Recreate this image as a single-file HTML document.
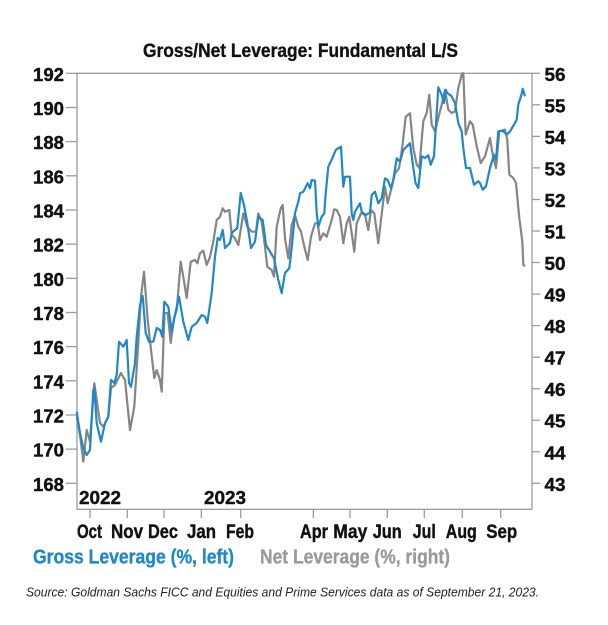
<!DOCTYPE html>
<html><head><meta charset="utf-8"><style>
html,body{margin:0;padding:0;background:#fff;}
svg{display:block;}
text{font-family:"Liberation Sans",Arial,sans-serif;}
</style></head><body>
<svg width="608" height="625" viewBox="0 0 608 625" xmlns="http://www.w3.org/2000/svg">
<rect width="608" height="625" fill="#fff"/>
<text x="300.5" y="57" font-size="19.5" font-weight="bold" fill="#111" stroke="#111" stroke-width="0.35" text-anchor="middle" textLength="315" lengthAdjust="spacingAndGlyphs">Gross/Net Leverage: Fundamental L/S</text>

<!-- plot box -->
<rect x="77" y="73.3" width="455" height="436" fill="none" stroke="#9a9a9a" stroke-width="1.3"/>

<!-- left ticks -->
<g stroke="#9a9a9a" stroke-width="1.3">
<line x1="66" y1="73.3" x2="77" y2="73.3"/>
<line x1="66" y1="107.5" x2="77" y2="107.5"/>
<line x1="66" y1="141.6" x2="77" y2="141.6"/>
<line x1="66" y1="175.8" x2="77" y2="175.8"/>
<line x1="66" y1="210" x2="77" y2="210"/>
<line x1="66" y1="244.1" x2="77" y2="244.1"/>
<line x1="66" y1="278.3" x2="77" y2="278.3"/>
<line x1="66" y1="312.5" x2="77" y2="312.5"/>
<line x1="66" y1="346.6" x2="77" y2="346.6"/>
<line x1="66" y1="380.8" x2="77" y2="380.8"/>
<line x1="66" y1="415" x2="77" y2="415"/>
<line x1="66" y1="449.1" x2="77" y2="449.1"/>
<line x1="66" y1="483.3" x2="77" y2="483.3"/>
</g>
<g font-size="18.5" font-weight="bold" fill="#111" stroke="#111" stroke-width="0.4" text-anchor="end">
<text x="64" y="81" textLength="31" lengthAdjust="spacingAndGlyphs">192</text>
<text x="64" y="115" textLength="31" lengthAdjust="spacingAndGlyphs">190</text>
<text x="64" y="149" textLength="31" lengthAdjust="spacingAndGlyphs">188</text>
<text x="64" y="183.3" textLength="31" lengthAdjust="spacingAndGlyphs">186</text>
<text x="64" y="217.5" textLength="31" lengthAdjust="spacingAndGlyphs">184</text>
<text x="64" y="251.6" textLength="31" lengthAdjust="spacingAndGlyphs">182</text>
<text x="64" y="285.8" textLength="31" lengthAdjust="spacingAndGlyphs">180</text>
<text x="64" y="320" textLength="31" lengthAdjust="spacingAndGlyphs">178</text>
<text x="64" y="354.1" textLength="31" lengthAdjust="spacingAndGlyphs">176</text>
<text x="64" y="388.3" textLength="31" lengthAdjust="spacingAndGlyphs">174</text>
<text x="64" y="422.5" textLength="31" lengthAdjust="spacingAndGlyphs">172</text>
<text x="64" y="456.6" textLength="31" lengthAdjust="spacingAndGlyphs">170</text>
<text x="64" y="490.8" textLength="31" lengthAdjust="spacingAndGlyphs">168</text>
</g>

<!-- right ticks -->
<g stroke="#9a9a9a" stroke-width="1.3">
<line x1="532" y1="73.3" x2="540" y2="73.3"/>
<line x1="532" y1="104.8" x2="540" y2="104.8"/>
<line x1="532" y1="136.4" x2="540" y2="136.4"/>
<line x1="532" y1="167.9" x2="540" y2="167.9"/>
<line x1="532" y1="199.5" x2="540" y2="199.5"/>
<line x1="532" y1="231" x2="540" y2="231"/>
<line x1="532" y1="262.5" x2="540" y2="262.5"/>
<line x1="532" y1="294.1" x2="540" y2="294.1"/>
<line x1="532" y1="325.6" x2="540" y2="325.6"/>
<line x1="532" y1="357.2" x2="540" y2="357.2"/>
<line x1="532" y1="388.7" x2="540" y2="388.7"/>
<line x1="532" y1="420.2" x2="540" y2="420.2"/>
<line x1="532" y1="451.8" x2="540" y2="451.8"/>
<line x1="532" y1="483.3" x2="540" y2="483.3"/>
</g>
<g font-size="18.5" font-weight="bold" fill="#111" stroke="#111" stroke-width="0.4">
<text x="544.5" y="80.8" textLength="21" lengthAdjust="spacingAndGlyphs">56</text>
<text x="544.5" y="112.3" textLength="21" lengthAdjust="spacingAndGlyphs">55</text>
<text x="544.5" y="143.9" textLength="21" lengthAdjust="spacingAndGlyphs">54</text>
<text x="544.5" y="175.4" textLength="21" lengthAdjust="spacingAndGlyphs">53</text>
<text x="544.5" y="207" textLength="21" lengthAdjust="spacingAndGlyphs">52</text>
<text x="544.5" y="238.5" textLength="21" lengthAdjust="spacingAndGlyphs">51</text>
<text x="544.5" y="270" textLength="21" lengthAdjust="spacingAndGlyphs">50</text>
<text x="544.5" y="301.6" textLength="21" lengthAdjust="spacingAndGlyphs">49</text>
<text x="544.5" y="333.1" textLength="21" lengthAdjust="spacingAndGlyphs">48</text>
<text x="544.5" y="364.7" textLength="21" lengthAdjust="spacingAndGlyphs">47</text>
<text x="544.5" y="396.2" textLength="21" lengthAdjust="spacingAndGlyphs">46</text>
<text x="544.5" y="427.7" textLength="21" lengthAdjust="spacingAndGlyphs">45</text>
<text x="544.5" y="459.3" textLength="21" lengthAdjust="spacingAndGlyphs">44</text>
<text x="544.5" y="490.8" textLength="21" lengthAdjust="spacingAndGlyphs">43</text>
</g>

<!-- x ticks -->
<g stroke="#9a9a9a" stroke-width="1.3">
<line x1="90" y1="509.3" x2="90" y2="518"/>
<line x1="127.3" y1="509.3" x2="127.3" y2="518"/>
<line x1="164" y1="509.3" x2="164" y2="518"/>
<line x1="201.3" y1="509.3" x2="201.3" y2="518"/>
<line x1="240.7" y1="509.3" x2="240.7" y2="518"/>
<line x1="313.3" y1="509.3" x2="313.3" y2="518"/>
<line x1="350" y1="509.3" x2="350" y2="518"/>
<line x1="387.3" y1="509.3" x2="387.3" y2="518"/>
<line x1="424.3" y1="509.3" x2="424.3" y2="518"/>
<line x1="462.3" y1="509.3" x2="462.3" y2="518"/>
<line x1="500.7" y1="509.3" x2="500.7" y2="518"/>
</g>
<g font-size="19" font-weight="bold" fill="#111" stroke="#111" stroke-width="0.4" text-anchor="middle">
<text x="89.5" y="538" textLength="25" lengthAdjust="spacingAndGlyphs">Oct</text>
<text x="127" y="538" textLength="32" lengthAdjust="spacingAndGlyphs">Nov</text>
<text x="163" y="538" textLength="30" lengthAdjust="spacingAndGlyphs">Dec</text>
<text x="201.5" y="538" textLength="29" lengthAdjust="spacingAndGlyphs">Jan</text>
<text x="240" y="538" textLength="28" lengthAdjust="spacingAndGlyphs">Feb</text>
<text x="314" y="538" textLength="28" lengthAdjust="spacingAndGlyphs">Apr</text>
<text x="350.3" y="538" textLength="34" lengthAdjust="spacingAndGlyphs">May</text>
<text x="387.2" y="538" textLength="29" lengthAdjust="spacingAndGlyphs">Jun</text>
<text x="424.3" y="538" textLength="23" lengthAdjust="spacingAndGlyphs">Jul</text>
<text x="461.3" y="538" textLength="31" lengthAdjust="spacingAndGlyphs">Aug</text>
<text x="501.7" y="538" textLength="31" lengthAdjust="spacingAndGlyphs">Sep</text>
</g>
<g font-size="18" font-weight="bold" fill="#111" stroke="#111" stroke-width="0.4">
<text x="79" y="504" textLength="42" lengthAdjust="spacingAndGlyphs">2022</text>
<text x="204" y="504" textLength="42" lengthAdjust="spacingAndGlyphs">2023</text>
</g>

<!-- series -->
<polyline fill="none" stroke="#858585" stroke-width="2.2" stroke-linejoin="round" points="76.7,416.7 80,435 83.3,461.7 86.7,430 90,441.7 94.3,383.3 96.7,400 100,423 103.3,426.7 108.3,416.7 111,388 115,385 121,373 125,380 130,430 134.3,406.7 138.3,343 141,296.7 144,271.7 147.7,320 151,350 154.3,378 156.7,370 160,380 161.7,391.7 164.5,313 167.7,313 170.7,343 174,318 176.7,310 180.7,261.7 183.3,276.7 186.7,298 190.7,261.7 195,260 197.3,263.3 200,253.3 203.3,250.7 206.7,265 210,256.7 213.3,241.7 216.7,220 220,216.7 222.7,208.3 225,211.7 229.3,210 231.7,235 235,238.3 238.3,245 243.3,213.3 247.3,226.7 251.7,231.7 256,231.7 258.3,213.3 261.7,221.7 265,246.7 267.3,266.7 271.7,270 274,276.7 276.7,226.7 280.7,208.3 282.7,205 285,238.3 288.3,258.3 291.7,225 295,215 298.3,226.7 301,231.7 304.3,246.7 307.7,260 311,236.7 315,223.3 317.7,223.3 320,240 323.3,233.3 326.7,236.7 331.7,220 334.3,209.3 336.7,210 340,216.7 343.3,243.3 346.7,223.3 349.3,216.7 351.7,233.3 354.3,251.7 356.7,223.3 361,213.3 365,215 368.3,230 371,210 374.3,213.3 378.3,243.3 381,220 385,186.7 387.7,203.3 391,190 395,173.3 399,168.3 402.3,146.7 405.7,116.7 410,113.3 413.3,148 416.7,164.7 419.3,168 423.3,121.3 426.7,113 429.3,94.7 431.7,124.7 435,131.3 438.3,118 441.7,104.7 445,89.7 448.3,109.7 451.7,113 455,111.3 458.3,88 461.7,74.7 463.3,73 465.7,134.7 470,121.3 472.7,124.7 476.7,146.3 480.7,163 485,156.3 490,138 492.7,154.7 496,168 499.3,131.3 505,129.7 507.3,139.7 509.3,174.7 513.3,178 516,183 519.3,218 522.3,241.3 523.3,264.7 525,266.3"/>
<polyline fill="none" stroke="#1e88c8" stroke-width="2.2" stroke-linejoin="round" points="76.7,411.7 80,433 83.3,448 86.7,455 90,450 93.3,390 94.3,388 96.7,423 101,441.7 105,423 108.3,416.7 111,380 114.3,383 116.7,375 119,341.7 123.3,346.7 126.7,340 129,383 131,386.7 135,363 136.7,336.7 140,305 142.7,296 145.7,333 149,341.7 153.3,341.7 156.7,328 160,330 162.3,336.7 164.3,301.7 168.3,306.7 171.7,331.7 175,315 179,296.7 183.3,321.7 188.3,340 191.7,326.7 196.7,323 201.7,315 205,316.7 207.3,323 211.7,293 215,256.7 217.7,238 220,240 222.7,230 225,248 230,243 231.7,233 235,230 237.3,228 240.7,193 244,205 247.3,223 251,248 255,241.7 258.3,216.7 262.7,220 266,245 270,251.7 274,258.3 278.3,280 281.7,293 285,273 289.3,268.3 291.7,248 295,213 298.3,201.7 300,193.3 303.3,191.7 307.7,183.3 310,188.3 311.7,180 315,180.7 316.7,213.3 318.3,226.7 321.7,216.7 324.3,213.3 325.7,193.3 328.3,166.7 332.3,158.3 335.7,150 338.3,148.3 341,146.7 343.3,186.7 345,176.7 350,176.7 351.7,213.3 353.3,220 355,211.7 360,203.3 361.7,211.7 365.7,215 370,212.7 371.7,195 375,191.7 378.3,203.3 381.7,198.3 385,178.3 387.7,180 391,188.3 393.3,180 396.7,158.3 400,161.7 403.3,150 410,143.3 413,165.5 415.5,183 418.3,188 421.7,156.3 425,158 428.3,155.3 430.7,164.7 434,156.3 438.3,87.3 441.7,94.7 444,103 445.7,89.7 447.3,93 451.7,96.3 455,103 458.3,123 461.7,131.3 463.3,148 466,168 470,168 474,184.7 478.3,181.3 480,183 482.7,189.7 486,186.3 490,168 494,154.7 496,159.7 498.3,131.3 502.7,130.7 506.7,134.7 510,131.3 514,124.7 516.7,119.7 518.3,104.7 521.7,94 522.7,88.7 525,96.3"/>

<!-- legend -->
<text x="33" y="563.5" font-size="20" font-weight="bold" fill="#1e88c8" stroke="#1e88c8" stroke-width="0.35" textLength="201" lengthAdjust="spacingAndGlyphs">Gross Leverage (%, left)</text>
<text x="260" y="563.5" font-size="20" font-weight="bold" fill="#9a9a9a" stroke="#9a9a9a" stroke-width="0.35" textLength="190" lengthAdjust="spacingAndGlyphs">Net Leverage (%, right)</text>

<!-- source -->
<text x="26" y="596.7" font-size="12.5" font-style="italic" fill="#222" textLength="513" lengthAdjust="spacingAndGlyphs">Source: Goldman Sachs FICC and Equities and Prime Services data as of September 21, 2023.</text>
</svg>
</body></html>
